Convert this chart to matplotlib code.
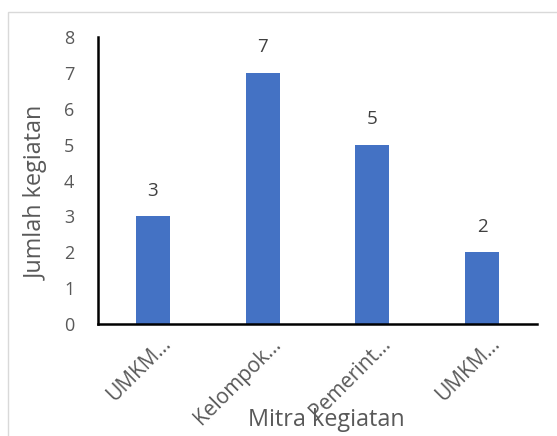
import matplotlib.pyplot as plt
from matplotlib.patches import Rectangle
from matplotlib.transforms import ScaledTranslation

# data
categories = ["UMKM…", "Kelompok…", "Pemerint…", "UMKM…"]
values = [3, 7, 5, 2]
y_ticks = [0, 1, 2, 3, 4, 5, 6, 7, 8]

bar_color = "#4472C4"
text_gray = "#595959"

plt.rcParams['font.family'] = ['Open Sans', 'DejaVu Sans']

fig = plt.figure(figsize=(5.57, 4.36), dpi=100)
ax = fig.add_axes([0.176, 0.257, 0.788, 0.658])

# light chart-area border, like the excel frame
fig.patches.append(Rectangle((8 / 557, -0.2), 1.2, 1.2 - 12 / 436,
                             transform=fig.transFigure, fill=False,
                             edgecolor="#D9D9D9", linewidth=1))

x = list(range(len(categories)))
ax.bar(x, values, width=0.31, color=bar_color, zorder=2)

for xi, v in zip(x, values):
    ax.annotate(str(v), (xi, v), xytext=(0, 12), textcoords="offset points",
                ha="center", va="bottom", fontsize=13.5, color="#404040")

ax.set_xlim(-0.5, len(categories) - 0.5)
ax.set_ylim(0, 8)
ax.set_yticks(y_ticks)
ax.set_xticks(x)
ax.set_xticklabels([])

# rotated category labels, end of text right/below the tick like excel
shift = ScaledTranslation(15 / 100, -17 / 100, fig.dpi_scale_trans)
for xi, cat in zip(x, categories):
    ax.text(xi, 0, cat, transform=ax.get_xaxis_transform() + shift,
            rotation=45, ha="right", va="center", rotation_mode="anchor",
            fontsize=15, color=text_gray)

ax.tick_params(axis="y", labelsize=13, colors=text_gray, length=0, pad=17)
ax.tick_params(axis="x", length=0)

for s in ["top", "right"]:
    ax.spines[s].set_visible(False)
ax.spines["left"].set_linewidth(1.8)
ax.spines["bottom"].set_linewidth(1.8)
ax.spines["left"].set_color("black")
ax.spines["bottom"].set_color("black")

ax.set_ylabel("Jumlah kegiatan", fontsize=16.8, color=text_gray, va="center")
ax.yaxis.set_label_coords(-0.139, 0.456)
ax.set_xlabel("Mitra kegiatan", fontsize=16.8, color=text_gray, va="center")
ax.xaxis.set_label_coords(0.52, -0.335)

fig.savefig("out.png", dpi=100)
